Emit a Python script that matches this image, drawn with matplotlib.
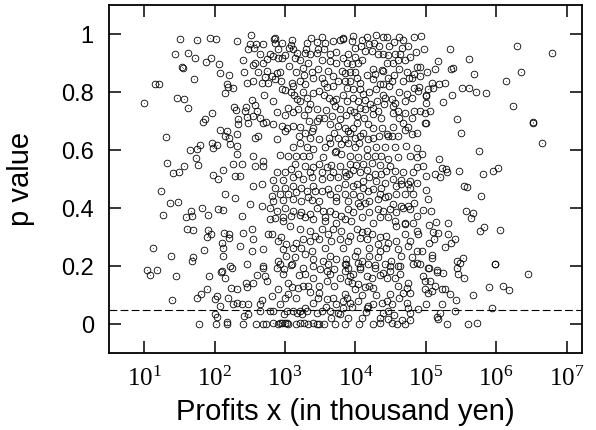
import numpy as np
import matplotlib as mpl
import matplotlib.pyplot as plt

mpl.use('Agg')

# (log10 of profits in thousand yen, p value)
pts_left = [
    (1.51, 0.984), (1.75, 0.981), (1.44, 0.933), (1.62, 0.936), (1.72, 0.919), (1.54, 0.888),
    (1.55, 0.884), (1.71, 0.846), (1.15, 0.829), (1.21, 0.829), (1.00, 0.763), (1.46, 0.781),
    (1.56, 0.777), (1.62, 0.746), (1.31, 0.646), (1.32, 0.557), (1.41, 0.522), (1.49, 0.525),
    (1.56, 0.546), (1.24, 0.46), (1.65, 0.601), (1.75, 0.605), (1.73, 0.574), (1.76, 0.55),
    (2.07, 0.67), (2.15, 0.649), (2.20, 0.643), (1.96, 0.625), (2.03, 0.618), (1.98, 0.608),
    (1.79, 0.618), (1.98, 0.515), (2.05, 0.501), (2.12, 0.532), (2.15, 0.45), (1.36, 0.418),
    (1.48, 0.422), (1.27, 0.377), (1.66, 0.391), (1.59, 0.37), (1.68, 0.374), (1.82, 0.401),
    (1.90, 0.377), (2.05, 0.398), (2.12, 0.394), (1.61, 0.329), (1.69, 0.325), (1.90, 0.325),
    (1.95, 0.312), (1.89, 0.301), (2.13, 0.315), (2.20, 0.312), (2.20, 0.298), (2.10, 0.28),
    (1.12, 0.263), (1.85, 0.256), (2.12, 0.236), (1.38, 0.236), (1.69, 0.232), (1.68, 0.218),
    (1.04, 0.187), (1.18, 0.187), (2.10, 0.184), (2.25, 0.194),
    (1.94, 0.988), (2.02, 0.984), (1.88, 0.905), (1.95, 0.919), (2.06, 0.898), (2.07, 0.867),
    (2.20, 0.86), (1.96, 0.729), (1.86, 0.708), (1.83, 0.698),
]

pts_low = [
    (1.08, 0.17), (1.45, 0.167), (1.39, 0.084), (1.78, 0.001), (1.75, 0.091), (1.81, 0.105),
    (1.89, 0.122), (1.92, 0.167), (2.09, 0.18), (2.15, 0.16), (2.00, 0.087), (2.03, 0.098),
    (2.00, 0.036), (2.03, 0.025), (2.02, 0.0), (2.17, 0.008), (2.17, 0.0), (2.07, 0.063),
    (2.19, 0.091), (2.32, 0.122), (2.23, 0.125), (2.26, 0.07), (2.32, 0.073), (2.45, 0.142),
    (2.46, 0.129), (2.55, 0.142), (2.39, 0.07), (2.47, 0.07), (2.40, 0.001), (2.42, 0.029),
    (2.47, 0.036), (2.59, 0.001), (2.67, 0.084), (2.64, 0.07), (2.64, 0.046), (2.60, 0.17),
    (2.71, 0.167), (2.69, 0.194), (2.69, 0.001), (2.73, 0.001), (2.79, 0.046), (2.82, 0.098),
    (2.83, 0.046), (2.83, 0.004), (2.90, 0.001), (2.93, 0.004), (2.96, 0.004), (3.00, 0.004),
    (3.03, 0.004), (3.04, 0.001), (2.98, 0.036), (3.03, 0.046), (2.93, 0.07), (3.00, 0.091),
    (3.04, 0.105), (2.97, 0.174), (2.98, 0.191), (3.04, 0.142), (3.10, 0.129), (3.18, 0.125),
    (3.25, 0.132), (3.28, 0.174), (3.32, 0.132), (3.11, 0.046), (3.17, 0.039), (3.21, 0.046),
    (3.24, 0.036), (3.31, 0.046), (3.28, 0.056), (3.15, 0.001), (3.21, 0.004), (3.27, 0.004),
    (3.32, 0.001), (3.40, 0.004), (3.45, 0.001), (3.49, 0.001), (3.45, 0.039), (3.52, 0.046),
    (3.40, 0.073), (3.47, 0.091), (3.49, 0.108), (3.59, 0.087), (3.68, 0.091), (3.73, 0.07),
    (3.64, 0.046), (3.75, 0.039), (3.78, 0.036), (3.71, 0.001), (3.85, 0.001), (3.82, 0.056),
    (3.88, 0.091), (3.49, 0.132), (3.59, 0.149), (3.64, 0.174), (3.78, 0.16), (3.85, 0.184),
    (3.89, 0.194), (3.40, 0.16), (3.25, 0.194), (3.10, 0.208), (2.88, 0.194), (3.59, 0.184),
    (3.85, 0.208), (3.92, 0.167), (3.96, 0.174), (3.89, 0.149), (3.85, 0.105), (3.82, 0.08),
    (3.92, 0.073), (4.04, 0.08), (3.99, 0.122), (4.04, 0.139), (4.13, 0.129), (4.20, 0.132),
    (4.25, 0.125), (4.23, 0.16), (4.16, 0.167), (4.28, 0.194), (4.07, 0.191), (4.04, 0.211),
    (4.18, 0.208), (4.39, 0.177), (4.49, 0.184), (4.56, 0.16), (4.63, 0.174), (4.60, 0.201),
    (4.45, 0.16), (4.49, 0.105), (4.45, 0.08), (4.38, 0.073), (4.25, 0.07), (4.18, 0.063),
    (4.17, 0.056), (4.52, 0.07), (4.46, 0.046), (4.39, 0.039), (4.35, 0.022), (4.46, 0.018),
    (4.25, 0.001), (4.35, 0.004), (4.52, 0.004), (4.59, 0.001), (4.66, 0.015), (4.78, 0.015),
    (4.78, 0.039), (4.75, 0.056), (4.89, 0.053), (4.73, 0.073), (4.68, 0.108), (4.73, 0.125),
    (4.78, 0.108), (4.75, 0.142), (4.82, 0.208), (4.92, 0.208), (4.96, 0.167), (4.99, 0.149),
    (5.06, 0.149), (5.03, 0.194), (5.16, 0.18), (5.24, 0.177), (5.13, 0.132), (4.99, 0.122),
    (5.03, 0.108), (5.09, 0.115), (5.23, 0.122), (5.27, 0.122), (5.34, 0.105), (5.43, 0.084),
    (5.01, 0.07), (5.23, 0.07), (5.20, 0.039), (5.16, 0.025), (5.17, 0.018), (5.30, 0.001),
    (5.41, 0.046), (5.44, 0.194), (5.46, 0.174), (5.54, 0.16), (5.60, 0.001), (5.73, 0.004),
    (5.67, 0.101), (5.90, 0.129), (5.94, 0.056), (6.10, 0.132), (6.18, 0.118), (5.99, 0.208),
    (6.45, 0.174),
    (3.20, 0.17), (3.50, 0.19), (3.70, 0.13), (3.95, 0.14), (4.10, 0.10), (4.30, 0.10),
    (4.60, 0.13), (4.35, 0.17), (3.65, 0.02), (3.90, 0.02), (4.10, 0.02), (4.05, 0.0),
    (4.15, 0.04), (3.55, 0.0), (3.35, 0.11), (3.15, 0.09), (4.55, 0.03), (4.70, 0.0),
    (3.95, 0.06), (4.62, 0.09), (3.58, 0.06), (2.90, 0.12), (2.75, 0.15), (3.70, 0.19),
]

pts_right = [
    (4.99, 0.694), (5.50, 0.66), (6.52, 0.694), (6.65, 0.625), (5.75, 0.598), (4.95, 0.588),
    (5.19, 0.57), (4.96, 0.546), (5.23, 0.539), (5.29, 0.536), (5.30, 0.525), (5.13, 0.519),
    (5.20, 0.508), (5.00, 0.512), (5.47, 0.529), (5.82, 0.519), (5.96, 0.529), (6.02, 0.539),
    (5.54, 0.477), (5.58, 0.474), (5.00, 0.463), (5.03, 0.432), (5.79, 0.443), (4.96, 0.394),
    (5.07, 0.391), (5.57, 0.391), (5.67, 0.384), (5.64, 0.367), (5.14, 0.353), (5.31, 0.349),
    (5.04, 0.343), (5.10, 0.318), (5.17, 0.315), (5.31, 0.312), (5.77, 0.322), (5.83, 0.336),
    (6.05, 0.325), (5.11, 0.294), (5.04, 0.28), (5.41, 0.294), (5.36, 0.28), (5.28, 0.267),
    (5.09, 0.239), (5.09, 0.229), (4.95, 0.253), (5.53, 0.229), (5.45, 0.218), (5.49, 0.211),
    (5.04, 0.194), (5.16, 0.187), (5.98, 0.208),
    (6.29, 0.96), (6.79, 0.936), (6.36, 0.87), (6.14, 0.839), (6.24, 0.753), (6.53, 0.698),
    (5.34, 0.95), (5.61, 0.915), (5.69, 0.864), (5.51, 0.815), (5.62, 0.815), (5.71, 0.801),
    (5.86, 0.798), (5.37, 0.791), (5.24, 0.767), (5.45, 0.708), (5.36, 0.881), (5.39, 0.884),
    (5.17, 0.908), (5.13, 0.881), (5.09, 0.832), (5.19, 0.829), (5.27, 0.832), (5.10, 0.815),
    (5.00, 0.787), (5.03, 0.812), (5.00, 0.763),
]

pts_top = [
    (4.93, 0.994), (4.83, 0.991), (4.68, 0.981), (4.55, 0.974), (4.66, 0.953), (4.63, 0.932),
    (4.56, 0.932), (4.60, 0.912), (4.46, 0.929), (4.39, 0.932), (4.32, 0.932), (4.53, 0.901),
    (4.45, 0.901), (4.38, 0.877), (4.25, 0.881), (4.28, 0.863), (4.25, 0.846), (4.39, 0.874),
    (4.73, 0.87), (4.83, 0.863), (4.92, 0.887), (4.88, 0.887), (5.02, 0.87), (4.76, 0.85),
    (4.80, 0.85), (4.68, 0.839), (4.92, 0.856), (4.46, 0.85), (4.35, 0.829), (4.39, 0.829),
    (4.48, 0.822), (4.84, 0.815), (4.89, 0.805), (4.74, 0.794), (4.90, 0.818), (5.01, 0.791),
    (4.60, 0.736), (4.53, 0.753), (4.70, 0.729), (4.84, 0.736), (4.92, 0.736), (4.99, 0.729),
    (5.06, 0.736), (4.81, 0.711), (4.67, 0.694), (5.00, 0.694), (4.87, 0.66), (4.80, 0.656),
    (4.52, 0.649), (4.53, 0.68), (4.38, 0.677), (4.42, 0.781), (4.39, 0.791), (4.52, 0.777),
    (4.56, 0.763), (4.31, 0.77), (4.25, 0.746), (4.32, 0.736), (4.25, 0.725), (4.21, 0.76),
    (4.14, 0.743), (4.07, 0.746), (4.04, 0.77), (4.14, 0.774), (4.11, 0.794), (4.07, 0.812),
    (3.96, 0.812), (3.88, 0.815), (3.99, 0.87), (3.92, 0.87), (3.85, 0.867), (3.82, 0.919),
    (3.95, 0.898), (4.04, 0.901), (4.09, 0.912), (4.13, 0.943), (4.23, 0.943), (3.99, 0.953),
    (3.95, 0.977), (3.96, 0.994), (3.82, 0.988), (4.17, 0.991), (4.30, 0.998), (4.39, 0.991),
    (4.20, 0.967), (4.26, 0.97), (4.02, 0.694), (3.85, 0.677), (3.96, 0.677), (3.92, 0.66),
    (4.07, 0.649), (4.25, 0.677), (4.33, 0.649), (4.46, 0.649),
    (2.32, 0.977), (2.52, 0.998), (2.59, 0.967), (2.69, 0.967), (2.47, 0.95), (2.56, 0.953),
    (2.84, 0.984), (2.86, 0.97), (2.96, 0.97), (3.08, 0.964), (3.05, 0.953), (3.37, 0.988),
    (3.31, 0.97), (3.45, 0.974), (3.57, 0.97), (3.68, 0.977), (3.78, 0.981), (3.82, 0.984),
    (2.32, 0.656), (2.28, 0.75), (2.31, 0.739), (2.45, 0.75), (2.43, 0.736), (2.57, 0.756),
    (2.53, 0.774), (2.60, 0.736), (2.46, 0.715), (2.33, 0.708), (2.55, 0.718), (2.73, 0.698),
    (2.83, 0.691), (2.96, 0.684), (3.00, 0.667), (2.61, 0.649), (2.57, 0.643), (2.89, 0.639),
    (3.11, 0.684), (3.21, 0.681), (3.28, 0.66), (3.34, 0.701), (3.40, 0.677), (3.35, 0.643),
    (3.56, 0.711), (3.67, 0.718), (3.78, 0.708), (3.62, 0.643), (3.76, 0.643), (2.18, 0.829),
    (2.19, 0.818), (2.26, 0.815), (2.15, 0.798), (2.46, 0.832), (2.55, 0.839), (2.67, 0.832),
    (2.76, 0.832), (2.82, 0.856), (2.71, 0.853), (2.74, 0.874), (2.89, 0.867), (2.93, 0.87),
    (2.86, 0.846), (2.69, 0.901), (2.74, 0.915), (2.83, 0.925), (2.90, 0.919), (2.96, 0.919),
    (3.00, 0.929), (2.79, 0.932), (2.57, 0.901), (2.55, 0.895), (2.40, 0.912), (2.42, 0.87),
    (3.15, 0.87), (3.25, 0.884), (3.32, 0.901), (3.28, 0.936), (3.35, 0.932), (3.45, 0.936),
    (3.47, 0.95), (3.17, 0.936), (3.14, 0.919), (3.47, 0.881), (3.40, 0.85), (3.52, 0.85),
    (3.61, 0.874), (3.68, 0.856), (3.68, 0.822), (3.85, 0.839), (3.81, 0.874), (3.64, 0.908),
    (3.73, 0.901), (3.88, 0.901), (2.96, 0.812), (3.00, 0.808), (2.83, 0.77), (3.04, 0.746),
    (3.13, 0.791), (3.17, 0.777), (3.21, 0.77), (3.18, 0.743), (3.31, 0.781), (3.40, 0.798),
    (3.49, 0.805), (3.59, 0.818), (3.62, 0.781), (3.68, 0.77), (3.73, 0.777), (3.71, 0.753),
    (3.78, 0.743), (3.88, 0.77), (3.21, 0.839), (3.28, 0.829), (3.10, 0.832), (3.11, 0.822),
    (3.35, 0.76), (3.45, 0.743), (2.50, 0.967), (2.86, 0.988), (3.64, 0.932),
    (3.05, 0.89), (3.12, 0.95), (3.22, 0.91), (3.38, 0.87), (3.52, 0.91), (3.56, 0.95),
    (3.72, 0.94), (3.90, 0.93), (4.00, 0.92), (4.08, 0.96), (4.34, 0.96), (4.48, 0.96),
    (4.62, 0.99), (4.75, 0.96), (4.78, 0.92), (4.86, 0.94), (4.97, 0.95), (3.27, 0.86),
    (3.55, 0.83), (3.76, 0.84), (3.93, 0.84), (4.03, 0.85), (4.16, 0.86), (4.55, 0.86),
    (4.62, 0.88), (4.70, 0.91), (3.08, 0.80), (3.25, 0.80), (3.55, 0.79), (3.82, 0.79),
    (3.96, 0.78), (4.20, 0.80), (4.30, 0.81), (4.62, 0.80), (4.70, 0.77), (4.80, 0.78),
    (3.00, 0.72), (3.12, 0.73), (3.27, 0.72), (3.45, 0.70), (3.58, 0.74), (3.86, 0.72),
    (3.93, 0.74), (4.12, 0.71), (4.18, 0.69), (4.36, 0.71), (4.62, 0.71), (4.75, 0.68),
    (3.20, 0.65), (3.48, 0.64), (3.70, 0.66), (3.85, 0.64), (4.18, 0.64), (4.60, 0.65),
    (4.70, 0.67), (2.90, 0.95), (2.64, 0.93), (2.62, 0.87), (2.95, 0.84), (2.70, 0.79),
    (2.88, 0.73), (2.65, 0.71), (3.10, 0.98), (3.52, 0.99), (4.10, 0.98), (4.45, 0.99),
    (3.98, 0.73), (4.40, 0.76), (4.06, 0.83), (3.30, 0.95), (4.52, 0.84),
]

pts_mid = [
    (2.22, 0.622), (2.32, 0.615), (2.18, 0.667), (2.33, 0.691), (2.48, 0.694), (2.69, 0.694),
    (3.03, 0.677), (3.38, 0.667), (3.49, 0.711), (3.64, 0.691), (3.76, 0.684), (3.89, 0.667),
    (3.99, 0.643), (4.11, 0.66), (4.25, 0.643), (4.45, 0.656), (3.32, 0.743), (4.02, 0.718),
    (4.53, 0.729),
    (2.32, 0.587), (2.55, 0.58), (2.69, 0.563), (2.26, 0.553), (2.39, 0.553), (2.29, 0.511),
    (2.36, 0.511), (2.57, 0.546), (2.69, 0.546), (2.29, 0.436), (2.55, 0.477), (2.67, 0.484),
    (2.39, 0.374), (2.50, 0.415), (2.67, 0.408), (2.40, 0.315), (2.53, 0.329), (2.55, 0.294),
    (2.76, 0.312), (2.12, 0.263), (2.36, 0.27), (2.53, 0.253), (2.69, 0.26), (2.22, 0.201),
    (2.46, 0.208), (2.69, 0.201),
]

pts_center = [
    (3.12, 0.611), (3.21, 0.623), (3.31, 0.609), (3.40, 0.603), (3.57, 0.611), (3.64, 0.626),
    (3.73, 0.598), (3.80, 0.621), (3.90, 0.626), (3.99, 0.609), (4.05, 0.623), (4.16, 0.603),
    (4.30, 0.611), (4.42, 0.609), (4.56, 0.609), (4.72, 0.615), (4.87, 0.607),
    (2.93, 0.584), (3.04, 0.580), (3.16, 0.580), (3.26, 0.580), (3.34, 0.580), (3.54, 0.575),
    (3.71, 0.592), (3.80, 0.586), (3.92, 0.580), (4.04, 0.575), (4.16, 0.580), (4.28, 0.580),
    (4.37, 0.580), (4.46, 0.569), (4.61, 0.577), (4.77, 0.580), (4.87, 0.577),
    (3.14, 0.552), (3.09, 0.534), (3.00, 0.523), (2.88, 0.526), (3.28, 0.546), (3.40, 0.540),
    (3.49, 0.552), (3.59, 0.540), (3.66, 0.549), (3.78, 0.546), (3.92, 0.552), (4.01, 0.549),
    (4.11, 0.552), (4.23, 0.557), (4.35, 0.549), (4.49, 0.546), (4.44, 0.529), (4.56, 0.529),
    (4.68, 0.523), (4.82, 0.523), (3.35, 0.523), (3.19, 0.517), (3.52, 0.523), (3.68, 0.523),
    (3.85, 0.526), (3.97, 0.531), (4.06, 0.526), (4.16, 0.531), (4.28, 0.517), (4.37, 0.517),
    (4.87, 0.540),
    (2.83, 0.496), (2.97, 0.496), (3.12, 0.506), (3.26, 0.500), (3.38, 0.506), (3.52, 0.500),
    (3.64, 0.506), (3.76, 0.506), (3.87, 0.511), (3.91, 0.517), (4.02, 0.483), (4.11, 0.494),
    (4.20, 0.506), (4.30, 0.494), (4.42, 0.488), (4.54, 0.500), (4.65, 0.496), (4.77, 0.494),
    (4.75, 0.483), (4.87, 0.488), (2.86, 0.471), (3.00, 0.471), (3.12, 0.477), (3.23, 0.471),
    (3.40, 0.477), (3.42, 0.460), (3.61, 0.465), (3.76, 0.471), (3.85, 0.483), (3.97, 0.477),
    (4.11, 0.471), (4.25, 0.465), (4.37, 0.471), (4.58, 0.477), (4.65, 0.483), (4.77, 0.471),
    (2.81, 0.442), (2.93, 0.448), (3.04, 0.448), (3.16, 0.454), (3.31, 0.460), (3.33, 0.437),
    (3.52, 0.460), (3.64, 0.448), (3.73, 0.437), (3.73, 0.425), (3.85, 0.448), (3.97, 0.448),
    (4.06, 0.442), (4.18, 0.460), (4.35, 0.448), (4.46, 0.442), (4.58, 0.448), (4.70, 0.450),
    (4.82, 0.448), (2.83, 0.425), (2.97, 0.427), (3.12, 0.431), (3.23, 0.423), (3.38, 0.427),
    (3.49, 0.425), (3.90, 0.425), (4.04, 0.419), (4.13, 0.419), (4.20, 0.425), (4.32, 0.431),
    (4.42, 0.437), (4.54, 0.414), (4.65, 0.408), (4.75, 0.408), (4.84, 0.419),
    (2.79, 0.402), (2.88, 0.391), (3.00, 0.402), (3.12, 0.391), (3.23, 0.385), (3.35, 0.379),
    (3.45, 0.402), (3.54, 0.391), (3.64, 0.391), (3.71, 0.379), (3.80, 0.373), (3.90, 0.396),
    (3.97, 0.385), (4.06, 0.408), (4.20, 0.385), (4.32, 0.396), (4.39, 0.391), (4.49, 0.396),
    (4.58, 0.385), (4.68, 0.402), (4.77, 0.396), (4.87, 0.373), (2.86, 0.365), (2.97, 0.370),
    (3.09, 0.373), (3.21, 0.377), (3.28, 0.368), (3.40, 0.362), (3.57, 0.368), (3.57, 0.356),
    (3.73, 0.350), (3.85, 0.362), (3.94, 0.356), (4.09, 0.368), (4.25, 0.350), (4.35, 0.368),
    (4.46, 0.368), (4.56, 0.356), (4.70, 0.350), (4.82, 0.350), (2.97, 0.356), (2.79, 0.362),
    (2.81, 0.310), (2.95, 0.299), (3.07, 0.339), (3.21, 0.327), (3.35, 0.322), (3.42, 0.304),
    (3.52, 0.327), (3.61, 0.310), (3.68, 0.327), (3.80, 0.322), (3.92, 0.304), (4.02, 0.327),
    (4.09, 0.316), (4.16, 0.322), (4.16, 0.293), (4.23, 0.310), (4.35, 0.299), (4.44, 0.304),
    (4.58, 0.339), (4.70, 0.345), (4.70, 0.310), (4.87, 0.322), (2.90, 0.287), (3.02, 0.276),
    (3.16, 0.281), (3.26, 0.293), (3.35, 0.287), (3.49, 0.293), (3.66, 0.287), (3.78, 0.293),
    (3.90, 0.287), (4.06, 0.296), (4.32, 0.276), (4.46, 0.281), (4.58, 0.287), (4.77, 0.287),
    (4.89, 0.310),
    (2.97, 0.258), (3.12, 0.264), (3.23, 0.264), (3.38, 0.253), (3.57, 0.264), (3.83, 0.264),
    (4.02, 0.253), (4.20, 0.264), (4.35, 0.253), (4.44, 0.264), (4.61, 0.258), (4.75, 0.270),
    (4.87, 0.253), (2.90, 0.218), (3.02, 0.235), (3.14, 0.230), (3.28, 0.241), (3.40, 0.224),
    (3.54, 0.218), (3.64, 0.235), (3.73, 0.224), (3.87, 0.224), (3.99, 0.235), (4.09, 0.218),
    (4.20, 0.235), (4.32, 0.230), (4.42, 0.207), (4.51, 0.218), (4.65, 0.235), (4.80, 0.230),
    (4.87, 0.212), (2.93, 0.207), (3.09, 0.204), (3.40, 0.201), (3.61, 0.207), (3.87, 0.207),
    (4.06, 0.197), (4.28, 0.204), (4.49, 0.201), (4.63, 0.201),
]

p_threshold = 0.05
xticks_exp = [1, 2, 3, 4, 5, 6, 7]
yticks = [0, 0.2, 0.4, 0.6, 0.8, 1]

pts = np.array(pts_left + pts_low + pts_right + pts_top + pts_mid + pts_center)
profit = 10 ** pts[:, 0]
pval = pts[:, 1]

plt.rcParams['font.family'] = ['Liberation Sans', 'DejaVu Sans']
plt.rcParams['mathtext.fontset'] = 'custom'
plt.rcParams['mathtext.rm'] = 'Liberation Serif'
plt.rcParams['mathtext.it'] = 'Liberation Serif'

fig = plt.figure(figsize=(5.96, 4.30), dpi=100)
ax = fig.add_axes([0.183, 0.179, 0.7935, 0.809])

ax.plot(profit, pval, ls='none', marker='o', ms=4.8, mfc='none', mec='k', mew=0.6)
ax.plot(profit, pval, ls='none', marker='o', ms=0.7, mfc='0.3', mec='none')
ax.axhline(p_threshold, color='k', lw=0.8, dashes=(7, 3))

ax.set_xscale('log')
ax.set_xlim(10 ** 0.5, 10 ** 7.22)
ax.set_ylim(-0.1, 1.1)
ax.set_xticks([10.0 ** e for e in xticks_exp])
ax.set_xticklabels([r'$10^{%d}$' % e for e in xticks_exp], fontsize=18)
ax.minorticks_off()
ax.set_yticks(yticks)
ax.set_yticklabels(['%g' % v for v in yticks], fontsize=17)
ax.tick_params(direction='in', length=8.5, width=1.1, top=True, right=True)
ax.tick_params(axis='y', pad=11)
ax.tick_params(axis='x', pad=10)
for s in ax.spines.values():
    s.set_linewidth(1.3)

ax.set_xlabel('Profits x (in thousand yen)', fontsize=21, labelpad=5)
ax.set_ylabel('p value', fontsize=21, labelpad=19)

fig.savefig('out.png', dpi=100)
